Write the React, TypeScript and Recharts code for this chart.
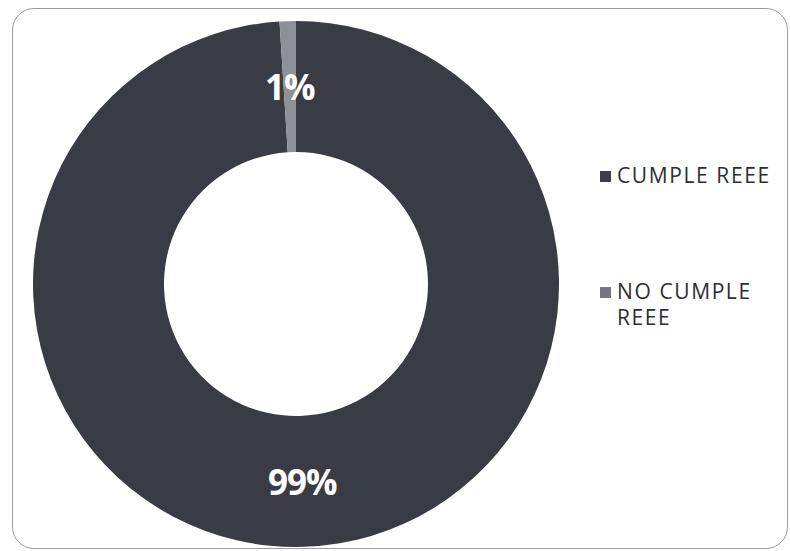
import React from 'react';
import { PieChart, Pie, Cell, Legend } from 'recharts';

const categories = ['CUMPLE REEE', 'NO CUMPLE REEE'];
const values = [99, 1];
const labels = ['99%', '1%'];
const colors = ['#393c44', '#8d9096'];
const legendColors = ['#3c3f48', '#75767e'];

const data = categories.map((name, i) => ({ name, value: values[i], label: labels[i] }));

const RAD = Math.PI / 180;

const renderLabel = (props: any) => {
  const { cx, cy, midAngle, innerRadius, outerRadius, index } = props;
  const r = (innerRadius + outerRadius) / 2;
  const x = cx + r * Math.cos(-midAngle * RAD);
  const y = cy + r * Math.sin(-midAngle * RAD);
  return (
    <text
      x={x}
      y={y}
      fill="#ffffff"
      textAnchor="middle"
      dominantBaseline="central"
      style={{ fontFamily: '"Open Sans", sans-serif', fontWeight: 700, fontSize: 35, letterSpacing: -1 }}
    >
      {labels[index]}
    </text>
  );
};

const renderLegend = () => (
  <div style={{ fontFamily: '"Open Sans", sans-serif', fontSize: 21, color: '#2e2e32', letterSpacing: 1.6 }}>
    {categories.map((c, i) => (
      <div key={c} style={{ display: 'flex', alignItems: 'flex-start', marginBottom: i === 0 ? 90 : 0 }}>
        <div style={{ width: 11, height: 11, background: legendColors[i], marginTop: 9, marginRight: 6, flex: 'none' }} />
        <div style={{ width: 168, lineHeight: '26px' }}>{c}</div>
      </div>
    ))}
  </div>
);

export default function App() {
  return (
    <div style={{ position: 'absolute', left: 0, top: 0, width: 790, height: 551, background: '#ffffff', overflow: 'hidden' }}>
      <div
        style={{
          position: 'absolute',
          left: 12,
          top: 8,
          width: 776,
          height: 541,
          border: '1.5px solid #9c9ca0',
          borderRadius: 22,
          boxSizing: 'border-box',
        }}
      />
      <PieChart
        width={790}
        height={551}
        margin={{ top: 0, right: 0, bottom: 0, left: 0 }}
        style={{ position: 'absolute', left: 0, top: 0 }}
      >
        <Pie
          data={data}
          dataKey="value"
          nameKey="name"
          cx={296}
          cy={284}
          innerRadius={132}
          outerRadius={263}
          startAngle={90}
          endAngle={-270}
          stroke="none"
          label={renderLabel}
          labelLine={false}
          isAnimationActive={false}
        >
          {data.map((d, i) => (
            <Cell key={d.name} fill={colors[i]} />
          ))}
        </Pie>
        <Legend
          content={renderLegend}
          wrapperStyle={{ position: 'absolute', left: 600, top: 162, width: 190 }}
        />
      </PieChart>
    </div>
  );
}
